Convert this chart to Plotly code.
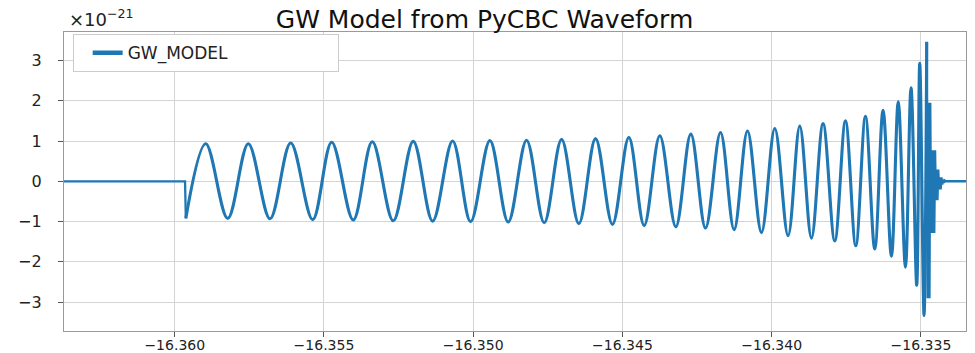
import plotly.graph_objects as go

# ---- data (strain in units of 1e-21, time in s) ----
# flat pre-signal segment and the initial jump
pre_t = [-16.36400, -16.359655, -16.359628]
pre_h = [0.0, 0.0, -0.92]

# inspiral: alternating troughs / peaks
insp_t = [-16.359628, -16.358962, -16.358225, -16.357535, -16.356808, -16.356115,
          -16.355378, -16.354742, -16.354019, -16.353382, -16.352679, -16.352009,
          -16.351360, -16.350690, -16.350087, -16.349441, -16.348828, -16.348212,
          -16.347622, -16.347039, -16.346460, -16.345901, -16.345335, -16.344786,
          -16.344273, -16.343748, -16.343212, -16.342709, -16.342217, -16.341715,
          -16.341259, -16.340811, -16.340342, -16.339896, -16.339451, -16.339059,
          -16.338667, -16.338279, -16.337887, -16.337528, -16.337183, -16.336859,
          -16.336547, -16.336269, -16.335988, -16.335760, -16.335519, -16.335332,
          -16.335141, -16.335040, -16.334896, -16.334806]
insp_h = [-0.92, 0.93, -0.92, 0.93, -0.93, 0.95,
          -0.95, 0.97, -0.96, 0.98, -0.98, 0.99,
          -0.99, 1.00, -1.00, 1.01, -1.01, 1.02,
          -1.03, 1.04, -1.05, 1.06, -1.07, 1.09,
          -1.10, 1.13, -1.13, 1.17, -1.16, 1.21,
          -1.20, 1.25, -1.27, 1.31, -1.35, 1.37,
          -1.41, 1.43, -1.48, 1.50, -1.60, 1.61,
          -1.68, 1.76, -1.86, 1.97, -2.13, 2.32,
          -2.58, 2.93, -3.33, 3.46]

# merger / ringdown and the flat tail
ring_t = [-16.334806, -16.334772, -16.334746, -16.334719, -16.334692, -16.334665,
          -16.334638, -16.334612, -16.334585, -16.334558, -16.334531, -16.334504,
          -16.334478, -16.334451, -16.334424, -16.334397, -16.334370, -16.334344,
          -16.334317, -16.334290, -16.334263, -16.334236, -16.334210, -16.334169,
          -16.333000]
ring_h = [3.46, -2.90, 1.95, -2.90, 1.95, -1.28,
          0.77, -1.28, 0.77, -1.28, 0.77, -0.47,
          0.29, -0.47, 0.29, -0.20, 0.10, -0.20,
          0.10, -0.08, 0.04, -0.04, 0.02, 0.0,
          0.0]

x_ticks = [-16.360, -16.355, -16.350, -16.345, -16.340, -16.335]
y_ticks = [-3, -2, -1, 0, 1, 2, 3]
x_range = [-16.36371, -16.33349]
y_range = [-3.715, 3.705]

COLOR = "#1f77b4"
FONT = "DejaVu Sans"

fig = go.Figure()
fig.add_trace(go.Scatter(x=pre_t, y=pre_h, mode="lines", showlegend=False,
                         line=dict(color=COLOR, width=2.3), hoverinfo="skip"))
fig.add_trace(go.Scatter(x=insp_t, y=insp_h, mode="lines", showlegend=False,
                         line=dict(color=COLOR, width=3.1, shape="spline", smoothing=1.0)))
fig.add_trace(go.Scatter(x=ring_t, y=ring_h, mode="lines", showlegend=False,
                         line=dict(color=COLOR, width=2.6)))
# legend entry
fig.add_trace(go.Scatter(x=[None], y=[None], mode="lines", name="GW_MODEL",
                         line=dict(color=COLOR, width=4.5)))

axis_common = dict(showgrid=True, gridcolor="#d4d4d4", gridwidth=1,
                   showline=True, linecolor="#9a9a9a", linewidth=1.2, mirror=True,
                   ticks="outside", ticklen=5, tickcolor="#555555", tickwidth=1,
                   zeroline=False, automargin=False)

fig.update_xaxes(range=x_range, tickvals=x_ticks, tickformat=".3f",
                 ticklabelstandoff=-4,
                 tickfont=dict(family=FONT, size=14, color="#222222"), **axis_common)
fig.update_yaxes(range=y_range, tickvals=y_ticks, tickformat="d",
                 ticklabelstandoff=13,
                 tickfont=dict(family=FONT, size=16, color="#222222"), **axis_common)

fig.update_layout(
    width=975, height=353,
    margin=dict(l=64, r=9, t=32, b=22),
    plot_bgcolor="white", paper_bgcolor="white",
    title=dict(text="GW Model from PyCBC Waveform", x=0.497, xanchor="center",
               y=1 - 19 / 353, yanchor="middle", yref="container",
               font=dict(family=FONT, size=25, color="#111111")),
    legend=dict(x=0.0096, y=0.993, xanchor="left", yanchor="top",
                bgcolor="white", bordercolor="#cccccc", borderwidth=1,
                orientation="h", entrywidth=205, entrywidthmode="pixels",
                indentation=14, itemwidth=30,
                font=dict(family=FONT, size=17, color="#222222")),
    annotations=[dict(text="×10<sup>−21</sup>", xref="paper", yref="paper",
                      x=0.003, y=1.0, xanchor="left", yanchor="bottom",
                      showarrow=False, font=dict(family=FONT, size=18, color="#222222"))],
)

fig.write_html("out.html")
